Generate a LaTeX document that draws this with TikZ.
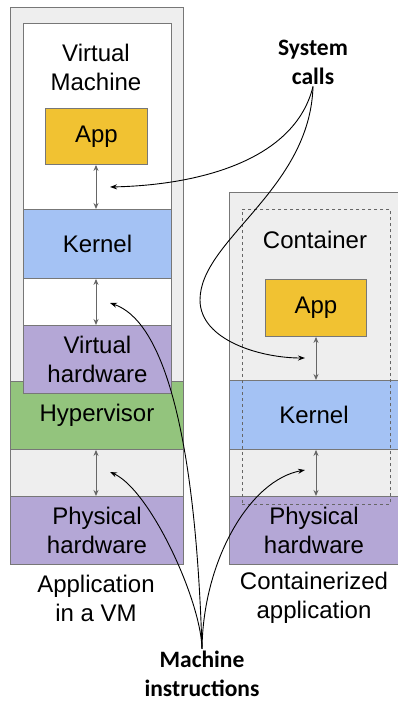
\documentclass[tikz,border=0pt]{standalone}
\usepackage{fontspec}
\setmainfont{Liberation Sans}
\newfontfamily\notefont{Carlito}
\usetikzlibrary{positioning}
\usetikzlibrary{arrows.meta}

\definecolor{appyellow}{HTML}{F1C232}
\definecolor{kernelblue}{HTML}{A4C2F4}
\definecolor{hwpurple}{HTML}{B4A7D6}
\definecolor{hvgreen}{HTML}{93C47D}
\definecolor{shellgray}{HTML}{EEEEEE}
\definecolor{edgegray}{HTML}{777777}
\definecolor{arrowgray}{HTML}{666666}

\newcommand\boxtext{\fontsize{24}{29}\selectfont}
\newcommand\notetext{\notefont\bfseries\fontsize{23.5}{29}\selectfont}

\tikzset{
	layer/.style={draw=edgegray, line width=0.9pt, anchor=north west, inner sep=0pt, align=center, font=\boxtext},
	caption/.style={align=center, font=\boxtext, inner sep=0pt},
	note/.style={align=center, font=\notetext, inner sep=2pt},
	twoway/.style={{Stealth[length=6pt,width=5pt]}-{Stealth[length=6pt,width=5pt]}, draw=arrowgray, line width=1pt},
	callout/.style={-{Stealth[length=7pt,width=5pt]}, line width=0.9pt},
}

\begin{document}
\begin{tikzpicture}[x=1pt,y=-1pt]
	\useasboundingbox (0,0) rectangle (398,703);

	% application in a VM
	\node[layer, fill=shellgray, minimum width=173pt, minimum height=557pt] (vmouter) at (10,7) {};
	\node[layer, fill=hvgreen, minimum width=173pt, minimum height=68pt] (hypervisor) at (10,381) {Hypervisor};
	\node[layer, fill=white, minimum width=148pt, minimum height=370pt] (vminner) at (23,23) {};
	\node[caption] (vmtitle) at (96,67) {Virtual\\Machine};
	\node[layer, fill=appyellow, minimum width=102pt, minimum height=56pt] (vmapp) at (45,108) {App};
	\node[layer, fill=kernelblue, minimum width=148pt, minimum height=69pt] (vmkernel) at (23,209) {Kernel};
	\node[layer, fill=hwpurple, minimum width=148pt, minimum height=68pt] (vmvhw) at (23,325) {Virtual\\hardware};
	\node[layer, fill=hwpurple, minimum width=173pt, minimum height=68pt] (vmphw) at (10,496) {Physical\\hardware};
	\node[caption] (vmlabel) at (96,598) {Application\\in a VM};

	\draw[twoway] (vmapp.south -| 96,0) -- (vmkernel.north -| 96,0);
	\draw[twoway] (vmkernel.south -| 96,0) -- (vmvhw.north -| 96,0);
	\draw[twoway] (hypervisor.south -| 96,0) -- (vmphw.north -| 96,0);

	% containerized application
	\node[layer, fill=shellgray, minimum width=169pt, minimum height=372pt] (ctouter) at (229,192) {};
	\node[caption] (cttitle) at (315,240) {Container};
	\node[layer, fill=appyellow, minimum width=101pt, minimum height=57pt] (ctapp) at (265,279) {App};
	\node[layer, fill=kernelblue, minimum width=169pt, minimum height=69pt] (ctkernel) at (229,380) {Kernel};
	\node[layer, fill=hwpurple, minimum width=169pt, minimum height=68pt] (ctphw) at (229,496) {Physical\\hardware};
	\node[layer, dashed, draw=arrowgray, minimum width=148pt, minimum height=295pt] (ctbound) at (242,209) {};
	\node[caption] (ctlabel) at (314,598) {Containerized\\application};

	\draw[twoway] (ctapp.south -| 316,0) -- (ctkernel.north -| 316,0);
	\draw[twoway] (ctkernel.south -| 316,0) -- (ctphw.north -| 316,0);

	% system calls
	\node[note] (syscalls) at (313,62) {System\\calls};
	\coordinate (vmcall) at (110,187);
	\coordinate (ctcall) at (305,358);
	\draw[callout] (syscalls.south) .. controls (295,160) and (200,185) .. (vmcall);
	\draw[callout] (syscalls.south) .. controls (310,190) and (200,240) .. (200,300)
		.. controls (200,340) and (260,358) .. (ctcall);

	% machine instructions
	\node[note] (machinstr) at (202,674) {Machine\\instructions};
	\coordinate (vmvirt) at (110,303);
	\coordinate (vmhost) at (110,472);
	\coordinate (cthost) at (305,470);
	\draw[callout] (machinstr.north) .. controls (195,420) and (160,320) .. (vmvirt);
	\draw[callout] (machinstr.north) .. controls (201,600) and (150,490) .. (vmhost);
	\draw[callout] (machinstr.north) .. controls (203,560) and (250,480) .. (cthost);
\end{tikzpicture}
\end{document}
